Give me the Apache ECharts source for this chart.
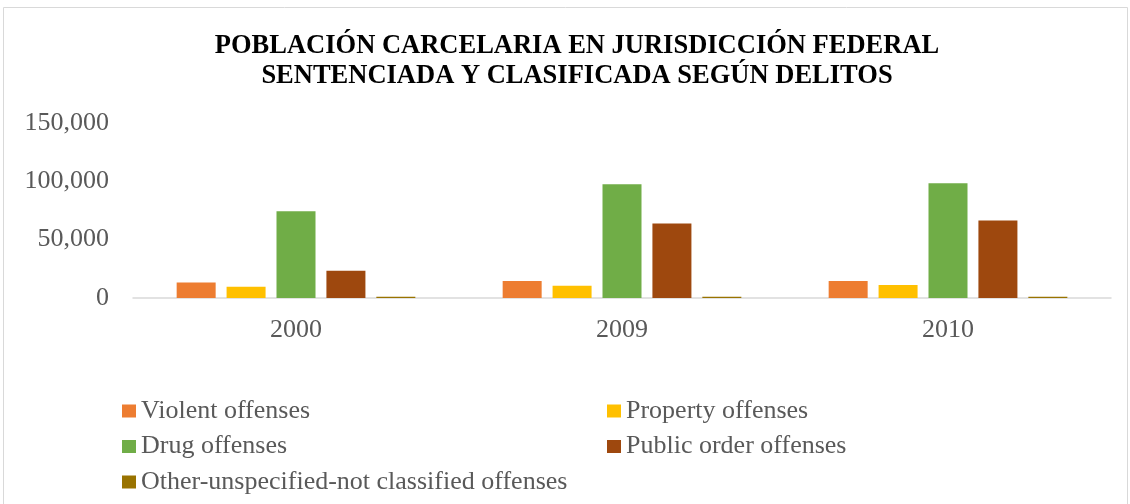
<!DOCTYPE html>
<html>
<head>
<meta charset="utf-8">
<script src="https://cdn.jsdelivr.net/npm/echarts@6/dist/echarts.min.js"></script>
<style>
  html, body { margin: 0; padding: 0; background: #fff; }
  #chart { width: 1130px; height: 504px; }
</style>
</head>
<body>
<div id="chart"></div>
<script>
var years = ["2000", "2009", "2010"];
var violent = [13200, 14650, 14650];
var property = [9700, 10600, 11200];
var drug = [74400, 97400, 98300];
var publicOrder = [23300, 63800, 66400];
var other = [1000, 1000, 1000];

var yTicks = [0, 50000, 100000, 150000];

var serif = "'Liberation Serif', 'Times New Roman', serif";
var labelColor = "#595959";

var myChart = echarts.init(document.getElementById("chart"));

function bar(name, data, color) {
  return {
    name: name,
    type: "bar",
    data: data,
    barWidth: 39,
    barGap: "28%",
    itemStyle: { color: color }
  };
}

var legendText = { fontFamily: serif, fontSize: 26, color: labelColor, lineHeight: 26 };

myChart.setOption({
  animation: false,
  graphic: [{
    type: "rect",
    shape: { x: 3.5, y: 7.5, width: 1124, height: 520 },
    style: { fill: "none", stroke: "#d9d9d9", lineWidth: 1 },
    silent: true
  }],
  title: {
    text: "POBLACIÓN CARCELARIA EN JURISDICCIÓN FEDERAL\nSENTENCIADA Y CLASIFICADA SEGÚN DELITOS",
    left: 572,
    top: 26,
    textAlign: "center",
    textStyle: {
      fontFamily: serif,
      fontWeight: "bold",
      fontSize: 26.5,
      lineHeight: 30,
      color: "#000"
    }
  },
  legend: [{
    data: ["Violent offenses", "Drug offenses", "Other-unspecified-not classified offenses"],
    orient: "vertical",
    left: 117,
    top: 393,
    itemWidth: 14,
    itemHeight: 13,
    itemGap: 9.5,
    icon: "rect",
    textStyle: legendText
  }, {
    data: ["Property offenses", "Public order offenses"],
    orient: "vertical",
    left: 602,
    top: 393,
    itemWidth: 14,
    itemHeight: 13,
    itemGap: 9.5,
    icon: "rect",
    textStyle: legendText
  }],
  grid: { left: 133, right: 19, top: 123, bottom: 206 },
  xAxis: {
    type: "category",
    data: years,
    axisTick: { show: false },
    axisLine: { lineStyle: { color: "#d9d9d9", width: 1.5 } },
    axisLabel: { fontFamily: serif, fontSize: 26, color: labelColor, margin: 19 }
  },
  yAxis: {
    type: "value",
    min: yTicks[0],
    max: yTicks[yTicks.length - 1],
    interval: yTicks[1] - yTicks[0],
    splitLine: { show: false },
    axisLine: { show: false },
    axisTick: { show: false },
    axisLabel: {
      fontFamily: serif,
      fontSize: 26,
      color: labelColor,
      margin: 24,
      formatter: function (v) { return v.toLocaleString("en-US"); }
    }
  },
  series: [
    bar("Violent offenses", violent, "#ED7D31"),
    bar("Property offenses", property, "#FFC000"),
    bar("Drug offenses", drug, "#70AD47"),
    bar("Public order offenses", publicOrder, "#9E480E"),
    bar("Other-unspecified-not classified offenses", other, "#997300")
  ]
});
</script>
</body>
</html>
